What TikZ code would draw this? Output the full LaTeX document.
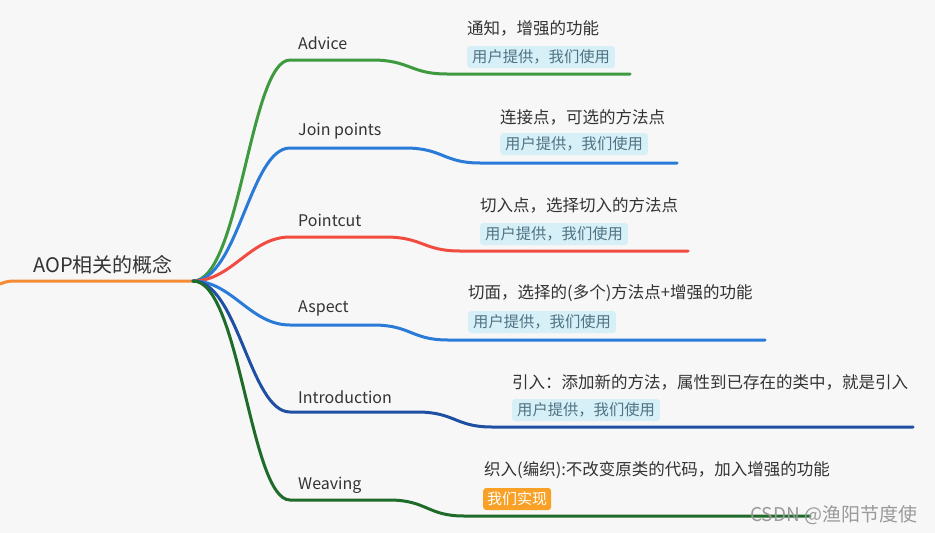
\documentclass[tikz,border=0pt]{standalone}
\usepackage{fontspec}
\setmainfont{Noto Sans CJK SC}
\definecolor{bgc}{HTML}{F7F7F7}
\definecolor{corange}{HTML}{F58B35}
\definecolor{cgreen}{HTML}{3D9A3F}
\definecolor{cblue}{HTML}{2A7BD8}
\definecolor{cred}{HTML}{F24B3F}
\definecolor{cnavy}{HTML}{1E4FA3}
\definecolor{cdgreen}{HTML}{1F6B2A}
\definecolor{tagfill}{HTML}{D7EFF7}
\definecolor{tagtext}{HTML}{4E7384}
\definecolor{txt}{HTML}{333333}
\definecolor{ours}{HTML}{F8A126}
\definecolor{wm}{HTML}{9A9A9A}
\begin{document}
\begin{tikzpicture}[x=1pt,y=-1pt,
  branch/.style={line width=3pt, line cap=round},
  rootlab/.style={inner sep=0pt, font=\fontsize{20}{22}\selectfont, text=txt},
  lab/.style={anchor=west, inner sep=0pt, font=\fontsize{16}{18}\selectfont, text=txt},
  sub/.style={anchor=west, inner sep=0pt, font=\fontsize{16.5}{18}\selectfont, text=txt},
  tag/.style={anchor=west, fill=tagfill, text=tagtext, rounded corners=3pt, inner xsep=5pt, inner ysep=0pt, minimum height=22pt, font=\fontsize{15.3}{17}\selectfont},
  ourtag/.style={anchor=west, fill=ours, text=white, rounded corners=3pt, inner xsep=4pt, inner ysep=0pt, minimum height=22pt, font=\fontsize{15}{17}\selectfont},
  wmark/.style={anchor=west, inner sep=0pt, text=wm, font=\fontsize{19}{21}\selectfont}]
\fill[bgc] (0,0) rectangle (935,533);
\useasboundingbox (0,0) rectangle (935,533);

% root
\node[rootlab] (root) at (103,265) {AOP相关的概念};
\coordinate (start) at (0,284);
\coordinate (hub) at (193,281);
\draw[corange, branch, line cap=butt] (start) .. controls (8,281) .. (20,281) -- (hub);

% end points
\coordinate (e1) at (630,74);
\coordinate (e2) at (677,163);
\coordinate (e3) at (688,251);
\coordinate (e4) at (765,340);
\coordinate (e5) at (913,427);
\coordinate (e6) at (810,516);

% branches
\draw[cgreen, branch] (hub) .. controls (240,281) and (250,60) .. (290,60) -- (372,60) .. controls (410,60) and (410,74) .. (447,74) -- (e1);
\draw[cblue, branch] (hub) .. controls (238,281) and (250,148) .. (290,148) -- (405,148) .. controls (443,148) and (443,163) .. (480,163) -- (e2);
\draw[cred, branch] (hub) .. controls (232,281) and (250,237) .. (290,237) -- (385,237) .. controls (423,237) and (423,251) .. (460,251) -- (e3);
\draw[cblue, branch] (hub) .. controls (232,281) and (250,325) .. (290,325) -- (373,325) .. controls (411,325) and (411,340) .. (448,340) -- (e4);
\draw[cnavy, branch] (hub) .. controls (238,281) and (250,412) .. (290,412) -- (417,412) .. controls (455,412) and (455,427) .. (492,427) -- (e5);
\draw[cdgreen, branch] (hub) .. controls (240,281) and (250,500) .. (290,500) -- (389,500) .. controls (427,500) and (427,516) .. (464,516) -- (e6);

% labels
\node[lab] (l1) at (298,43) {Advice};
\node[lab] (l2) at (298,131) {Join points};
\node[lab] (l3) at (298,220) {Pointcut};
\node[lab] (l4) at (298,308) {Aspect};
\node[lab] (l5) at (298,397) {Introduction};
\node[lab] (l6) at (298,485) {Weaving};

% descriptions
\node[sub] (s1) at (467,28) {通知，增强的功能};
\node[sub] (s2) at (500,117) {连接点，可选的方法点};
\node[sub] (s3) at (480,205) {切入点，选择切入的方法点};
\node[sub] (s4) at (468,293) {切面，选择的(多个)方法点+增强的功能};
\node[sub] (s5) at (512,382) {引入：添加新的方法，属性到已存在的类中，就是引入};
\node[sub] (s6) at (484,470) {织入(编织):不改变原类的代码，加入增强的功能};

% tags
\node[tag] (t1) at (467,57) {用户提供，我们使用};
\node[tag] (t2) at (500,144) {用户提供，我们使用};
\node[tag] (t3) at (480,234) {用户提供，我们使用};
\node[tag] (t4) at (468,322) {用户提供，我们使用};
\node[tag] (t5) at (512,410) {用户提供，我们使用};
\node[ourtag] (t6) at (483,499) {我们实现};

% watermark
\node[wmark] (wm) at (750,515) {CSDN @渔阳节度使};
\end{tikzpicture}
\end{document}
